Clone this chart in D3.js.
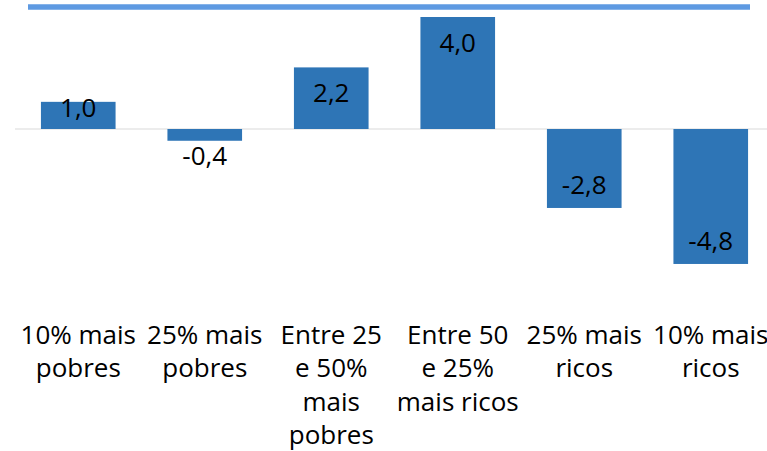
<!DOCTYPE html>
<html>
<head>
<meta charset="utf-8">
<script src="https://cdn.jsdelivr.net/npm/d3@7"></script>
<style>
  body { margin: 0; background: #fff; }
  text { font-family: "Open Sans", "Noto Sans", sans-serif; fill: #000; }
</style>
</head>
<body>
<div class="chart"></div>
<script>
// data
const categories = [
    '10% mais pobres',
    '25% mais pobres',
    'Entre 25 e 50% mais pobres',
    'Entre 50 e 25% mais ricos',
    '25% mais ricos',
    '10% mais ricos'
];
// line breaks as they show under each bar
const categoryLines = [
    ['10% mais', 'pobres'],
    ['25% mais', 'pobres'],
    ['Entre 25', 'e 50%', 'mais', 'pobres'],
    ['Entre 50', 'e 25%', 'mais ricos'],
    ['25% mais', 'ricos'],
    ['10% mais', 'ricos']
];
const values = [0.97, -0.42, 2.2, 4.0, -2.82, -4.82];

const fmt = v => d3.format('.1f')(v).replace('.', ',').replace('−', '-');

const width = 767, height = 451;
const fontSize = '26px';
const svg = d3.select('.chart').append('svg')
    .attr('width', width).attr('height', height);

// scales
const xScale = d3.scaleBand().domain(categories)
    .range([15, 774]).paddingInner(0.41).paddingOuter(0.205);
const yScale = d3.scaleLinear().domain([0, 4]).range([129, 17]);
const y0 = yScale(0);

// top decoration line
svg.append('line')
    .attr('x1', 28).attr('x2', 750)
    .attr('y1', 7).attr('y2', 7)
    .style('stroke', '#5e9ae2').style('stroke-width', 5.5);

// baseline
svg.append('line')
    .attr('x1', 15).attr('x2', width)
    .attr('y1', y0).attr('y2', y0)
    .style('stroke', '#d9d9d9').style('stroke-width', 1);

// bars
svg.selectAll('.bar')
    .data(values)
    .enter()
    .append('rect')
    .attr('class', 'bar')
    .attr('x', (d, i) => xScale(categories[i]))
    .attr('y', d => Math.min(yScale(d), y0))
    .attr('width', xScale.bandwidth())
    .attr('height', d => Math.abs(yScale(d) - y0))
    .style('fill', '#2e75b6');

// value labels (inside end, pushed out when bar is too short)
svg.selectAll('.val')
    .data(values)
    .enter()
    .append('text')
    .attr('class', 'val')
    .attr('x', (d, i) => xScale(categories[i]) + xScale.bandwidth() / 2)
    .attr('y', d => {
        const end = yScale(d);
        if (d >= 0) return Math.min(end + 35, y0 - 12);
        return (end - y0) < 30 ? end + 24.5 : end - 14;
    })
    .attr('text-anchor', 'middle')
    .style('font-size', fontSize)
    .text(d => fmt(d));

// category axis
const xAxis = d3.axisBottom(xScale).tickSize(0).tickSizeOuter(0);
const xAxisDraw = svg.append('g').attr('class', 'x axis')
    .call(xAxis);
xAxisDraw.select('.domain').remove();
xAxisDraw.selectAll('text').each(function(d, i) {
    const t = d3.select(this).text(null)
        .attr('dy', null)
        .style('font-size', fontSize)
        .attr('fill', '#000');
    categoryLines[i].forEach((line, j) => {
        t.append('tspan').attr('x', 0).attr('y', 343.5 + j * 33.6).text(line);
    });
});
</script>
</body>
</html>
